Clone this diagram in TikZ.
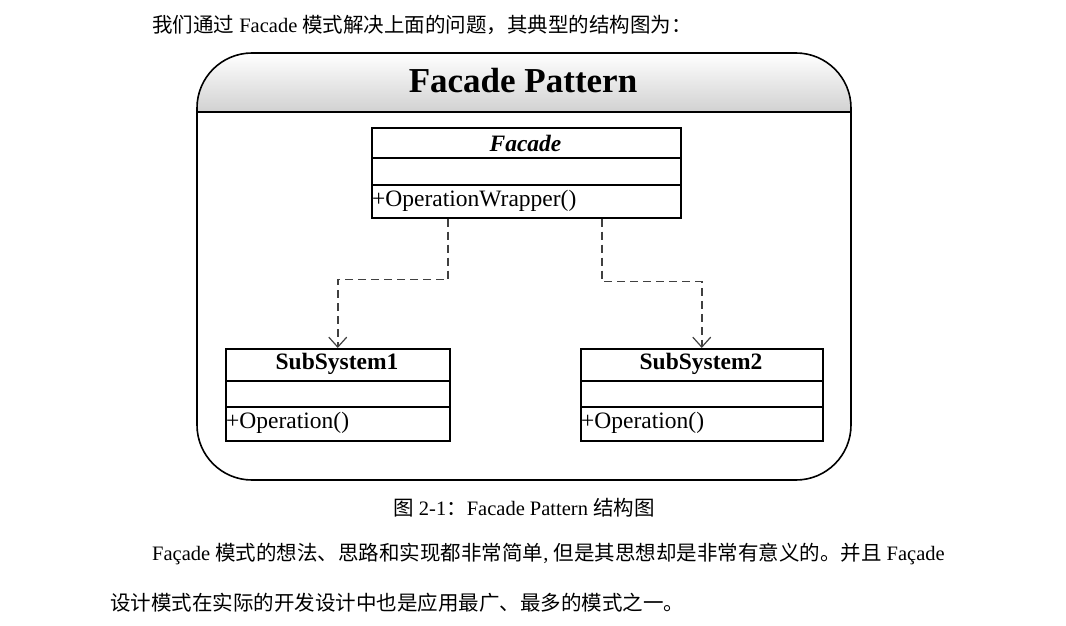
\documentclass[tikz,border=0pt]{standalone}
\usepackage{fontspec}
\setmainfont{Liberation Serif}
\newfontfamily\cjk{Noto Sans CJK SC}
\usetikzlibrary{arrows.meta}
\begin{document}
\begin{tikzpicture}[x=1pt,y=-1pt,
  cls/.style={draw, line width=1.5pt, anchor=north west, inner sep=0pt},
  row/.style={line width=1.5pt},
  clsname/.style={font=\fontsize{23.5}{26}\selectfont\bfseries, inner sep=0pt},
  member/.style={font=\fontsize{23.5}{26}\selectfont, anchor=west, inner sep=0pt},
  dep/.style={draw=black!75, line width=1.6pt, dash pattern=on 8pt off 5pt,
    -{Straight Barb[length=10pt,width=18pt,line width=1.2pt]}},
  body/.style={font=\fontsize{20.5}{24}\selectfont, anchor=west, inner sep=0pt},
]
\useasboundingbox (0,0) rectangle (1066,626);
\fill[white] (0,0) rectangle (1066,626);

% top text
\node[body] (l1) at (152,25) {{\cjk 我们通过} Facade {\cjk 模式解决上面的问题，其典型的结构图为：}};

% outer frame with shaded header
\begin{scope}
  \clip[rounded corners=55pt] (197,53) rectangle (851,480);
  \shade[top color=white, bottom color=black!18] (197,53) rectangle (851,112);
\end{scope}
\draw[line width=1.6pt, rounded corners=55pt] (197,53) rectangle (851,480);
\draw[line width=1.6pt] (197,112) -- (851,112);
\node[font=\fontsize{35}{40}\selectfont\bfseries, inner sep=0pt] (title) at (523,81) {Facade Pattern};

% Facade class
\node[cls, minimum width=309pt, minimum height=90pt] (facade) at (371,127) {};
\draw[row] (371,158) -- (680,158);
\draw[row] (371,185) -- (680,185);
\node[clsname, font=\fontsize{23.5}{26}\selectfont\bfseries\itshape] (facadeName) at (525.5,143) {Facade};
\node[member] (facadeOp) at (372,201) {+OperationWrapper()};

% SubSystem1
\node[cls, minimum width=224pt, minimum height=92pt] (ss1) at (225,348) {};
\draw[row] (225,381) -- (449,381);
\draw[row] (225,407) -- (449,407);
\node[clsname] (ss1Name) at (337,364) {SubSystem1};
\node[member] (ss1Op) at (226,423) {+Operation()};

% SubSystem2
\node[cls, minimum width=242pt, minimum height=92pt] (ss2) at (580,348) {};
\draw[row] (580,381) -- (822,381);
\draw[row] (580,407) -- (822,407);
\node[clsname] (ss2Name) at (701,364) {SubSystem2};
\node[member] (ss2Op) at (581,423) {+Operation()};

% dependencies
\draw[dep] ([xshift=77pt]facade.south west) -- ++(0,61) -| (ss1.north);
\draw[dep] ([xshift=231pt]facade.south west) -- ++(0,63) -| (ss2.north);

% caption and paragraph
\node[body, anchor=center] (cap) at (524,508) {{\cjk 图} 2-1{\cjk ：}Facade Pattern {\cjk 结构图}};
\node[body] (p1) at (152,554) {Façade {\cjk 模式的想法、思路和实现都非常简单}, {\cjk 但是其思想却是非常有意义的。并且} Façade};
\node[body] (p2) at (110,603) {{\cjk 设计模式在实际的开发设计中也是应用最广、最多的模式之一。}};
\end{tikzpicture}
\end{document}
